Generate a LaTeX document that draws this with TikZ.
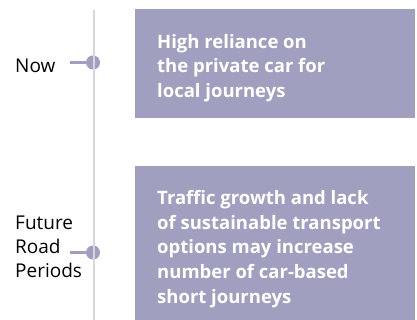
\documentclass[tikz,border=0pt]{standalone}
\usepackage{fontspec}
\setmainfont{Open Sans}
\definecolor{boxc}{RGB}{160,159,191}
\definecolor{linec}{RGB}{214,214,220}
\definecolor{dotc}{RGB}{160,159,194}
\begin{document}
\begin{tikzpicture}[x=1pt,y=-1pt,
  boxstyle/.style={fill=boxc, draw=none, inner sep=0pt, anchor=north west},
  boxtext/.style={text=white, font=\bfseries\fontsize{18.5}{24.3}\selectfont, align=left, inner sep=0pt, anchor=north west},
  boxtextb/.style={boxtext, font=\bfseries\fontsize{18.5}{24.6}\selectfont},
  label/.style={text=black, font=\fontsize{19}{24}\selectfont, align=left, inner sep=0pt, anchor=north west},
  conn/.style={draw=dotc, line width=2.6pt},
  dot/.style={circle, fill=dotc, minimum size=14pt, inner sep=0pt},
  axis/.style={draw=linec, line width=2.6pt}]
\useasboundingbox (0,0) rectangle (417,320);
% boxes
\node[boxstyle, minimum width=280pt, minimum height=108.7pt] (box1) at (135,9) {};
\node[boxstyle, minimum width=280pt, minimum height=154.3pt] (box2) at (135,165.7) {};
\node[boxtext] (t1) at (157,34.3) {High reliance on\\the private car for\\local journeys};
\node[boxtextb] (t2) at (157,190.3) {Traffic growth and lack\\of sustainable transport\\options may increase\\number of car-based\\short journeys};
% dots
\node[dot] (d1) at (93,62.5) {};
\node[dot] (d2) at (93,252.5) {};
% axis
\coordinate (atop) at (94,10);
\coordinate (abot) at (94,320);
\draw[axis] (atop) -- (abot);
% labels
\node[label] (now) at (15,58.8) {Now};
\node[label] (fut) at (15,215.3) {Future\\Road\\Periods};
\coordinate (c1) at (70,62.5);
\coordinate (c2) at (70,252.5);
\draw[conn] (c1) -- (d1.west);
\draw[conn] (c2) -- (d2.west);
\end{tikzpicture}
\end{document}
